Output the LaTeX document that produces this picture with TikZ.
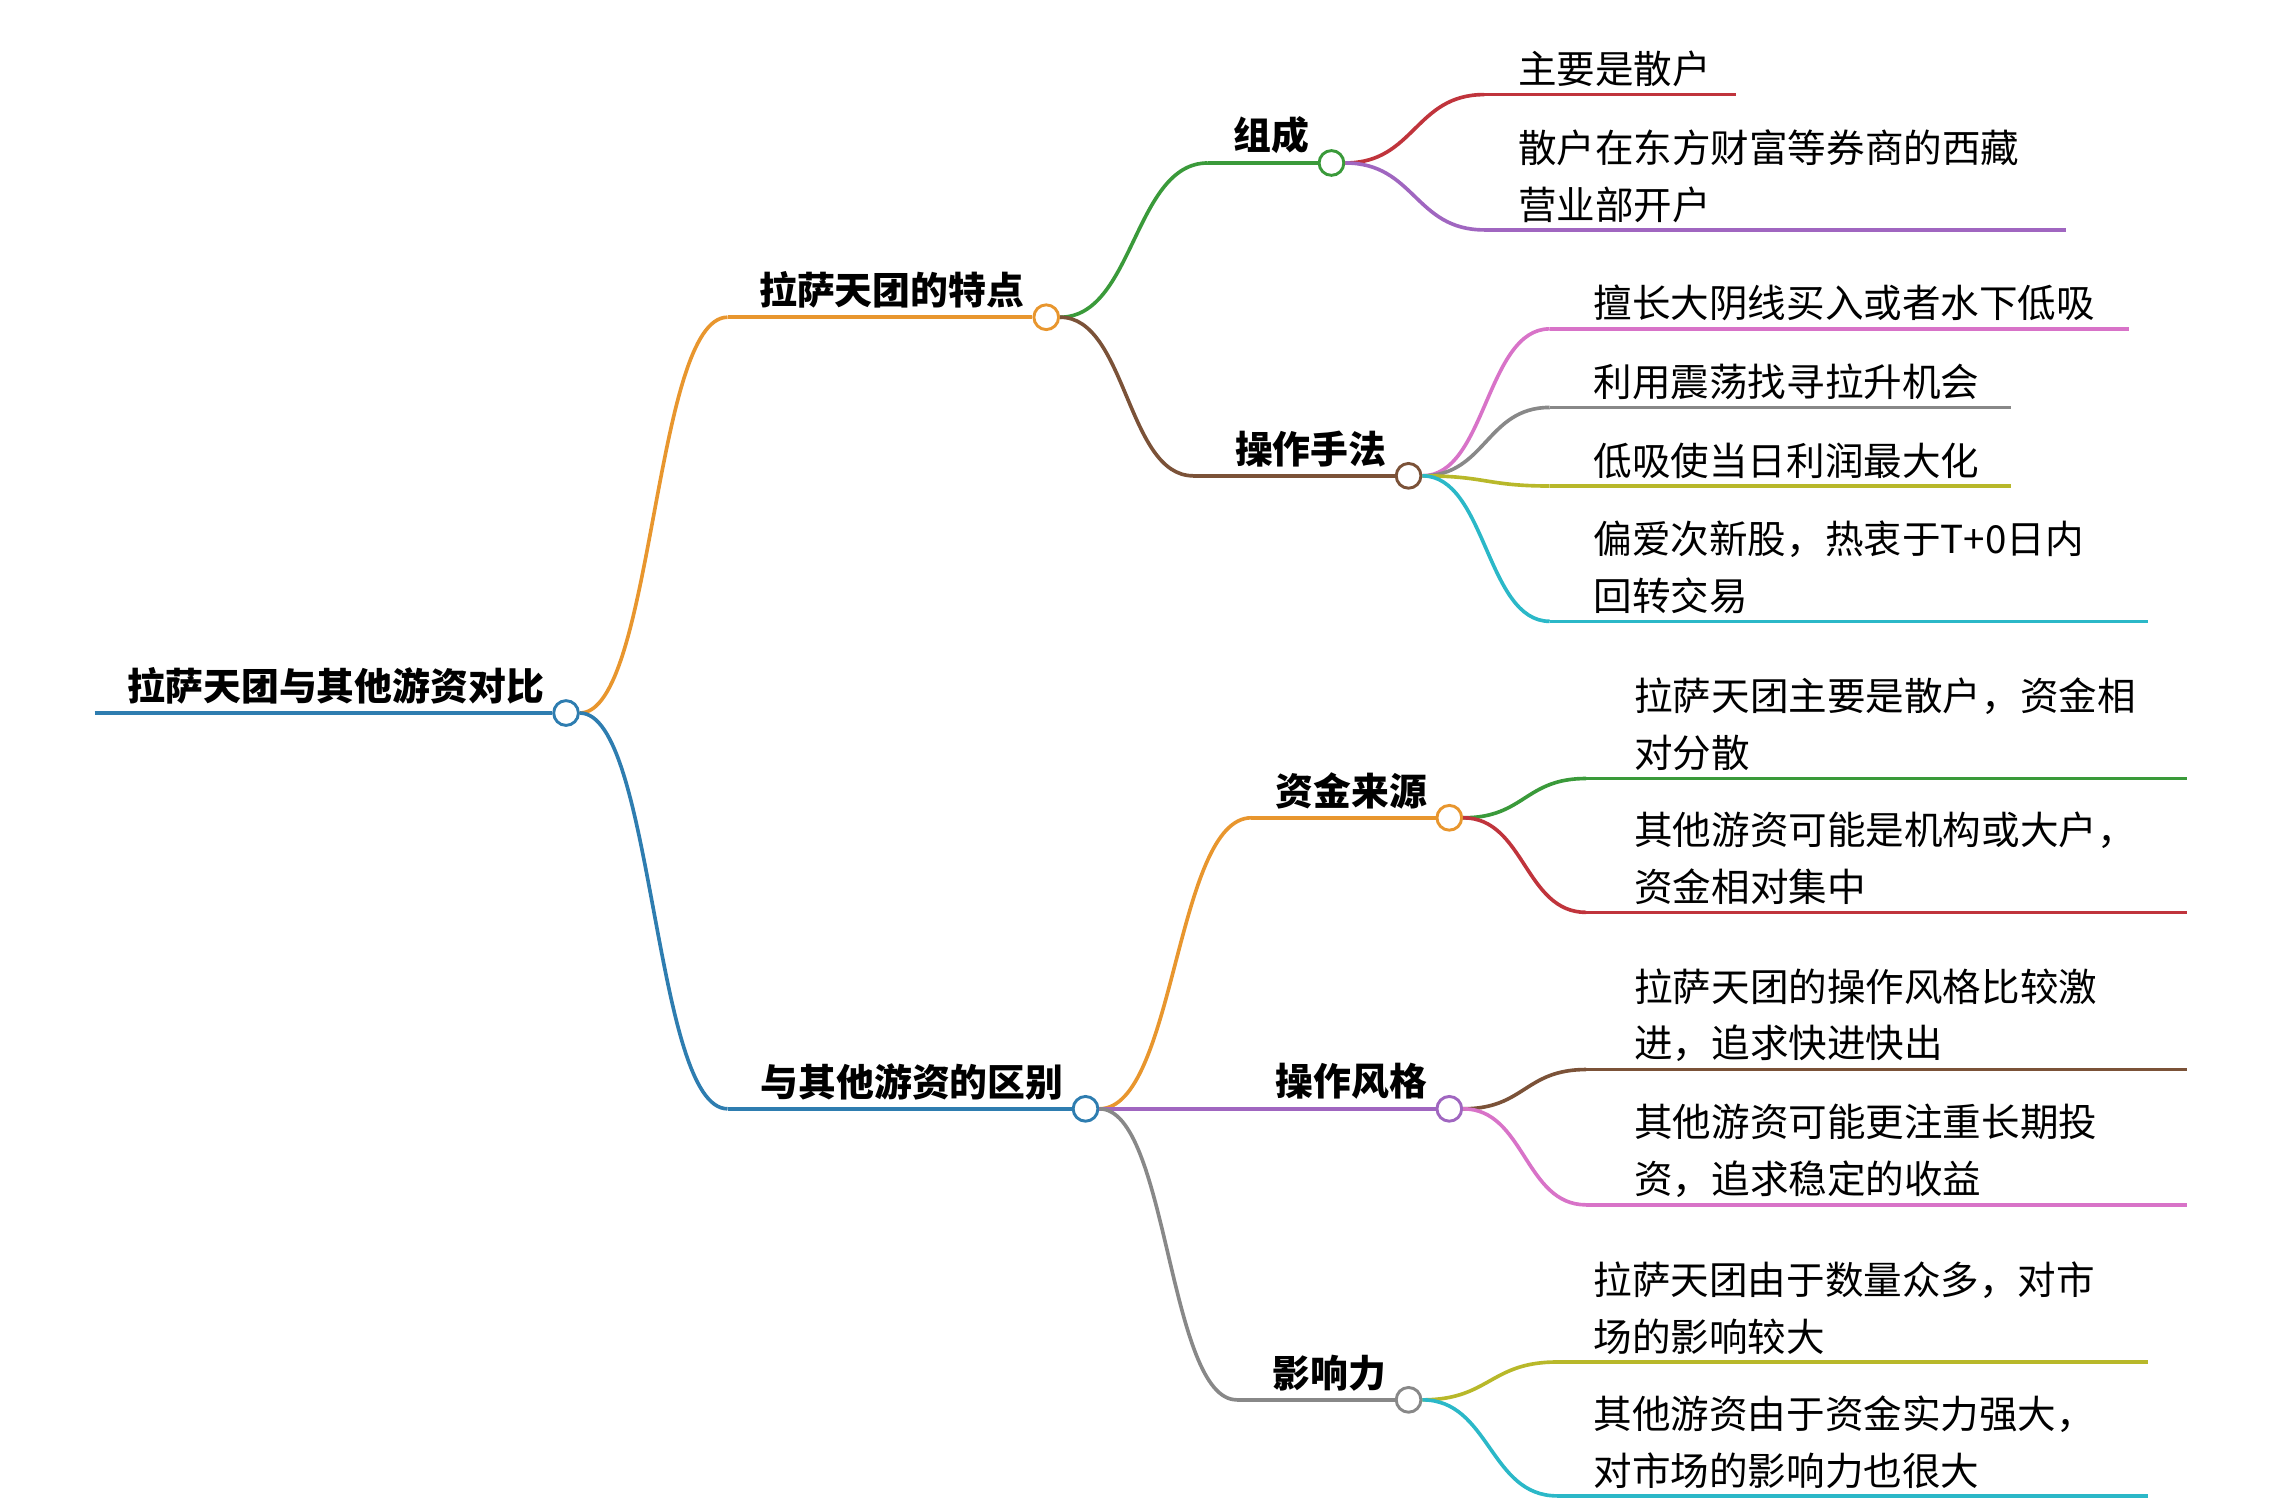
\documentclass[tikz,border=0pt]{standalone}
\usepackage{fontspec}
\setmainfont{Noto Sans CJK SC}
\usetikzlibrary{calc}
\definecolor{cor}{HTML}{E8962E}
\definecolor{cgr}{HTML}{3A9A3A}
\definecolor{cbr}{HTML}{7B5238}
\definecolor{cbl}{HTML}{2E7DB0}
\definecolor{cpu}{HTML}{A066C0}
\definecolor{cgy}{HTML}{888888}
\definecolor{cre}{HTML}{C0343C}
\definecolor{cpi}{HTML}{D873C8}
\definecolor{col}{HTML}{B8B82A}
\definecolor{ccy}{HTML}{2BB8C8}
\tikzset{link/.style={line width=2.5pt},
 hub/.style={circle,draw,fill=white,line width=2pt,minimum size=17pt,inner sep=0},
 lbl/.style={font=\fontsize{26}{30}\selectfont\bfseries,inner sep=0,anchor=south east},
 ltxt/.style={font=\fontsize{26.5}{39}\selectfont,inner sep=0,anchor=south west,align=left}}
\newcommand\conn[4]{%
 \coordinate (#2#3m) at ($(#2.east)!0.5!(#3)$);
 \draw[#1,link] (#2.east) .. controls (#2#3m |- #2.east) and (#2#3m |- #3) .. (#3);}
\newcommand\leaf[8]{%
 \coordinate (#1a) at (#4,#5); \coordinate (#1b) at (#6,#5);
 \conn{#2}{#3}{#1a}{}
 \draw[#2,link] (#1a) -- (#1b);
 \node[ltxt] (#1t) at (#7,#5-5) {#8};}
\begin{document}
\begin{tikzpicture}[x=1pt,y=-1pt]
\useasboundingbox (0,0) rectangle (1560,1038);
\coordinate (r0) at (65,490);
\node[hub,draw=cbl] (root) at (389,490) {};
\draw[cbl,link] (r0) -- (root.west);
\node[lbl] (roott) at (374,484) {拉萨天团与其他游资对比};
\coordinate (b1a) at (500,218);
\node[hub,draw=cor] (b1) at (719,218) {};
\conn{cor}{root}{b1a}{}
\draw[cor,link] (b1a) -- (b1.west);
\node[lbl] (b1t) at (704,212) {拉萨天团的特点};
\coordinate (b2a) at (500,762);
\node[hub,draw=cbl] (b2) at (746,762) {};
\conn{cbl}{root}{b2a}{}
\draw[cbl,link] (b2a) -- (b2.west);
\node[lbl] (b2t) at (731,756) {与其他游资的区别};
\coordinate (s1a) at (830,112); \node[hub,draw=cgr] (s1) at (915,112) {};
\conn{cgr}{b1}{s1a}{} \draw[cgr,link] (s1a) -- (s1.west);
\node[lbl] (s1t) at (900,106) {组成};
\coordinate (s2a) at (820,327); \node[hub,draw=cbr] (s2) at (968,327) {};
\conn{cbr}{b1}{s2a}{} \draw[cbr,link] (s2a) -- (s2.west);
\node[lbl] (s2t) at (953,321) {操作手法};
\coordinate (s3a) at (860,562); \node[hub,draw=cor] (s3) at (996,562) {};
\conn{cor}{b2}{s3a}{} \draw[cor,link] (s3a) -- (s3.west);
\node[lbl] (s3t) at (981,556) {资金来源};
\node[hub,draw=cpu] (s4) at (996,762) {};
\draw[cpu,link] (b2.east) -- (s4.west);
\node[lbl] (s4t) at (981,756) {操作风格};
\coordinate (s5a) at (850,962); \node[hub,draw=cgy] (s5) at (968,962) {};
\conn{cgy}{b2}{s5a}{} \draw[cgy,link] (s5a) -- (s5.west);
\node[lbl] (s5t) at (953,956) {影响力};
\leaf{l1}{cre}{s1}{1020}{65}{1193}{1043}{主要是散户}
\leaf{l2}{cpu}{s1}{1020}{158}{1420}{1043}{散户在东方财富等券商的西藏\\营业部开户}
\leaf{l3}{cpi}{s2}{1065}{226}{1463}{1095}{擅长大阴线买入或者水下低吸}
\leaf{l4}{cgy}{s2}{1065}{280}{1382}{1095}{利用震荡找寻拉升机会}
\leaf{l5}{col}{s2}{1065}{334}{1382}{1095}{低吸使当日利润最大化}
\leaf{l6}{ccy}{s2}{1065}{427}{1476}{1095}{偏爱次新股，热衷于T+0日内\\回转交易}
\leaf{l7}{cgr}{s3}{1090}{535}{1503}{1123}{拉萨天团主要是散户，资金相\\对分散}
\leaf{l8}{cre}{s3}{1090}{627}{1503}{1123}{其他游资可能是机构或大户，\\资金相对集中}
\leaf{l9}{cbr}{s4}{1090}{735}{1503}{1123}{拉萨天团的操作风格比较激\\进，追求快进快出}
\leaf{l10}{cpi}{s4}{1090}{828}{1503}{1123}{其他游资可能更注重长期投\\资，追求稳定的收益}
\leaf{l11}{col}{s5}{1070}{936}{1476}{1095}{拉萨天团由于数量众多，对市\\场的影响较大}
\leaf{l12}{ccy}{s5}{1070}{1028}{1476}{1095}{其他游资由于资金实力强大，\\对市场的影响力也很大}
\end{tikzpicture}
\end{document}
